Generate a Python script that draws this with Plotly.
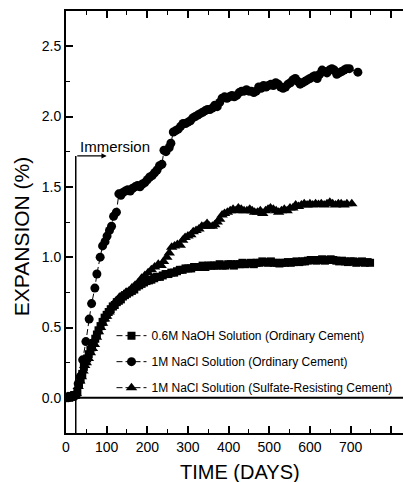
import plotly.graph_objects as go

# ---- data ----
naoh_days = [0, 4, 8, 12, 16, 20, 24, 28, 32, 36, 40, 44, 48, 52, 56, 60, 64, 68, 72, 76, 80, 85, 90, 95,
             100, 105, 110, 115, 120, 125, 130, 135, 140, 145, 150, 156, 162, 168, 174, 180, 186, 192, 198,
             204, 210, 217, 224, 231, 238, 245, 252, 259, 266, 273, 280, 287, 294, 301, 308, 315, 322, 329,
             336, 343, 350, 357, 364, 371, 378, 385, 392, 399, 406, 413, 420, 427, 434, 441, 448, 455, 462,
             469, 476, 483, 490, 497, 504, 511, 518, 525, 532, 539, 546, 553, 560, 567, 574, 581, 588, 595,
             602, 609, 616, 623, 630, 637, 644, 651, 658, 665, 672, 679, 686, 693, 700, 707, 714, 721, 728,
             735, 742, 748]
naoh_vals = [0.0, 0.01, 0.0, 0.01, 0.01, 0.02, 0.02, 0.04, 0.10, 0.13, 0.17, 0.22, 0.26, 0.28, 0.31, 0.34,
             0.36, 0.39, 0.42, 0.45, 0.48, 0.51, 0.54, 0.57, 0.59, 0.61, 0.63, 0.65, 0.66, 0.68, 0.69, 0.70,
             0.72, 0.73, 0.74, 0.75, 0.76, 0.77, 0.79, 0.80, 0.81, 0.82, 0.83, 0.835, 0.84, 0.85, 0.86, 0.86,
             0.87, 0.88, 0.88, 0.89, 0.89, 0.90, 0.91, 0.91, 0.92, 0.92, 0.92, 0.93, 0.93, 0.93, 0.94, 0.93,
             0.94, 0.94, 0.94, 0.94, 0.95, 0.94, 0.94, 0.95, 0.95, 0.94, 0.95, 0.95, 0.96, 0.95, 0.955, 0.96,
             0.95, 0.96, 0.96, 0.97, 0.965, 0.96, 0.97, 0.96, 0.96, 0.955, 0.96, 0.96, 0.965, 0.96, 0.965,
             0.97, 0.965, 0.97, 0.97, 0.975, 0.98, 0.98, 0.975, 0.98, 0.985, 0.975, 0.98, 0.985, 0.98, 0.975,
             0.97, 0.975, 0.97, 0.965, 0.97, 0.97, 0.96, 0.965, 0.97, 0.96, 0.965, 0.96]

nacl_oc_days = [0, 5, 10, 15, 20, 25, 30, 35, 41, 49, 57, 63, 71, 76, 84, 90, 96, 101, 107, 112, 117, 124,
                130, 135, 140, 146, 152, 158, 164, 170, 176, 182, 188, 194, 200, 206, 212, 218, 224, 230,
                236, 241, 246, 254, 258, 264, 270, 276, 282, 288, 294, 300, 306, 312, 318, 324, 330, 336,
                342, 348, 354, 360, 366, 372, 378, 384, 390, 396, 402, 408, 414, 420, 426, 432, 438, 444,
                450, 456, 462, 468, 474, 480, 486, 492, 498, 504, 510, 516, 522, 528, 534, 540, 546, 552,
                558, 564, 570, 576, 582, 588, 594, 600, 606, 612, 618, 624, 630, 636, 642, 648, 654, 660,
                666, 672, 678, 684, 690, 697, 718]
nacl_oc_vals = [0.0, 0.0, 0.01, 0.01, 0.01, 0.02, 0.10, 0.15, 0.27, 0.40, 0.56, 0.67, 0.78, 0.88, 1.00,
                1.08, 1.11, 1.15, 1.19, 1.22, 1.29, 1.32, 1.45, 1.44, 1.46, 1.47, 1.48, 1.47, 1.49, 1.50,
                1.51, 1.50, 1.52, 1.53, 1.55, 1.57, 1.58, 1.60, 1.62, 1.65, 1.66, 1.76, 1.75, 1.78, 1.81,
                1.89, 1.90, 1.91, 1.93, 1.95, 1.95, 1.96, 1.97, 1.99, 2.00, 2.01, 2.02, 2.03, 2.04, 2.05,
                2.05, 2.06, 2.08, 2.07, 2.10, 2.13, 2.14, 2.13, 2.14, 2.15, 2.14, 2.15, 2.17, 2.18, 2.18,
                2.19, 2.18, 2.18, 2.17, 2.18, 2.21, 2.20, 2.22, 2.21, 2.22, 2.23, 2.22, 2.24, 2.23, 2.21,
                2.20, 2.21, 2.23, 2.24, 2.26, 2.27, 2.25, 2.23, 2.24, 2.25, 2.26, 2.27, 2.28, 2.29, 2.27,
                2.30, 2.33, 2.32, 2.31, 2.33, 2.34, 2.33, 2.30, 2.31, 2.32, 2.33, 2.34, 2.34, 2.315]

nacl_sr_days = [0, 5, 10, 15, 20, 25, 30, 34, 38, 42, 46, 50, 55, 60, 65, 70, 75, 80, 85, 90, 95, 100,
                106, 112, 118, 124, 130, 136, 142, 148, 155, 162, 170, 178, 186, 194, 202, 210, 218, 227,
                234, 240, 248, 254, 260, 267, 274, 281, 287, 293, 300, 307, 313, 320, 327, 334, 340, 347,
                353, 360, 366, 372, 378, 384, 390, 397, 404, 411, 418, 424, 431, 438, 445, 452, 458, 464,
                471, 478, 484, 491, 497, 503, 510, 517, 523, 530, 537, 544, 551, 558, 565, 572, 579, 586,
                593, 600, 607, 614, 621, 628, 635, 642, 649, 656, 663, 670, 677, 684, 691, 703]
nacl_sr_vals = [0.0, 0.01, 0.01, 0.01, 0.02, 0.03, 0.08, 0.12, 0.15, 0.19, 0.23, 0.25, 0.28, 0.32, 0.35,
                0.38, 0.43, 0.47, 0.50, 0.53, 0.56, 0.58, 0.61, 0.64, 0.67, 0.69, 0.71, 0.72, 0.73, 0.75,
                0.76, 0.78, 0.80, 0.82, 0.85, 0.87, 0.89, 0.91, 0.93, 0.95, 0.94, 0.97, 1.00, 1.03, 1.07,
                1.08, 1.09, 1.085, 1.12, 1.14, 1.15, 1.16, 1.18, 1.19, 1.20, 1.22, 1.22, 1.24, 1.22, 1.22,
                1.23, 1.25, 1.27, 1.30, 1.31, 1.32, 1.33, 1.34, 1.33, 1.35, 1.34, 1.33, 1.33, 1.34, 1.33,
                1.32, 1.32, 1.33, 1.31, 1.33, 1.34, 1.35, 1.34, 1.33, 1.32, 1.33, 1.34, 1.33, 1.35, 1.35,
                1.37, 1.36, 1.37, 1.38, 1.37, 1.38, 1.37, 1.38, 1.375, 1.38, 1.37, 1.38, 1.39, 1.38, 1.37,
                1.38, 1.38, 1.37, 1.38, 1.38]

series_names = ["0.6M NaOH Solution (Ordinary Cement)",
                "1M NaCl Solution (Ordinary Cement)",
                "1M NaCl Solution (Sulfate-Resisting Cement)"]

x_ticks = [0, 100, 200, 300, 400, 500, 600, 700, 800]
y_ticks = [0.0, 0.5, 1.0, 1.5, 2.0, 2.5]
y_ticklabels = ["0.0", "0.5", "1.0", "1.5", "2.0", "2.5"]

immersion_day = 24
immersion_level = 1.72
immersion_arrow_end = 100

FONT = "Liberation Sans, Arial, sans-serif"

fig = go.Figure()
specs = [
    (naoh_days, naoh_vals, "square", 8),
    (nacl_oc_days, nacl_oc_vals, "circle", 9),
    (nacl_sr_days, nacl_sr_vals, "triangle-up", 10),
]
for i, (d, v, sym, sz) in enumerate(specs):
    fig.add_trace(go.Scatter(
        x=d, y=v, mode="lines+markers", name=series_names[i],
        legendgroup=f"g{i}",
        line=dict(color="black", width=1, dash="6px,3px"),
        marker=dict(symbol=sym, size=sz, color="black"),
    ))

# zero line
fig.add_shape(type="line", xref="x", yref="y", x0=0, x1=830, y0=0, y1=0,
              line=dict(color="black", width=2))
# immersion marker
fig.add_shape(type="line", xref="x", yref="y", x0=immersion_day, x1=immersion_day,
              y0=-0.25, y1=immersion_level, line=dict(color="black", width=1.5))
fig.add_annotation(x=immersion_arrow_end, y=immersion_level, ax=immersion_day, ay=immersion_level,
                   xref="x", yref="y", axref="x", ayref="y", text="", showarrow=True,
                   arrowhead=2, arrowsize=0.8, arrowwidth=1.3, arrowcolor="black")
fig.add_annotation(x=29, y=1.79, xref="x", yref="y", text="Immersion", showarrow=False,
                   xanchor="left", yanchor="middle",
                   font=dict(family=FONT, size=15, color="black"))

# axis titles
fig.add_annotation(x=-0.1335, y=0.464, xref="paper", yref="paper", text="EXPANSION (%)",
                   showarrow=False, textangle=-90, xanchor="center", yanchor="middle",
                   font=dict(family=FONT, size=21, color="black"))
fig.add_annotation(x=0.516, y=-0.0924, xref="paper", yref="paper", text="TIME (DAYS)",
                   showarrow=False, xanchor="center", yanchor="middle",
                   font=dict(family=FONT, size=20, color="black"))

fig.update_layout(
    width=403, height=482,
    margin=dict(l=66, r=0, t=11, b=49),
    paper_bgcolor="white", plot_bgcolor="white",
    font=dict(family=FONT, color="black"),
    showlegend=True,
    legend=dict(x=0.135, y=0.265, xanchor="left", yanchor="top",
                bgcolor="rgba(0,0,0,0)", font=dict(family=FONT, size=12, color="black"),
                traceorder="grouped", tracegroupgap=7),
    xaxis=dict(range=[0, 829], tickvals=x_ticks, ticks="inside", ticklen=7, tickwidth=1.5,
               tickcolor="black", showline=True, linecolor="black", linewidth=2,
               mirror="ticks", showgrid=False, zeroline=False,
               minor=dict(dtick=50, tick0=0, ticks="inside", ticklen=4, tickwidth=1, tickcolor="black"),
               tickfont=dict(family=FONT, size=14, color="black")),
    yaxis=dict(range=[-0.25, 2.75], tickvals=y_ticks, ticktext=y_ticklabels, ticks="inside",
               ticklen=7, tickwidth=1.5, tickcolor="black", showline=True, linecolor="black",
               linewidth=2, mirror=False, showgrid=False, zeroline=False,
               minor=dict(dtick=0.25, tick0=0, ticks="inside", ticklen=4, tickwidth=1, tickcolor="black"),
               tickfont=dict(family=FONT, size=14, color="black")),
)

fig.write_html("out.html")
